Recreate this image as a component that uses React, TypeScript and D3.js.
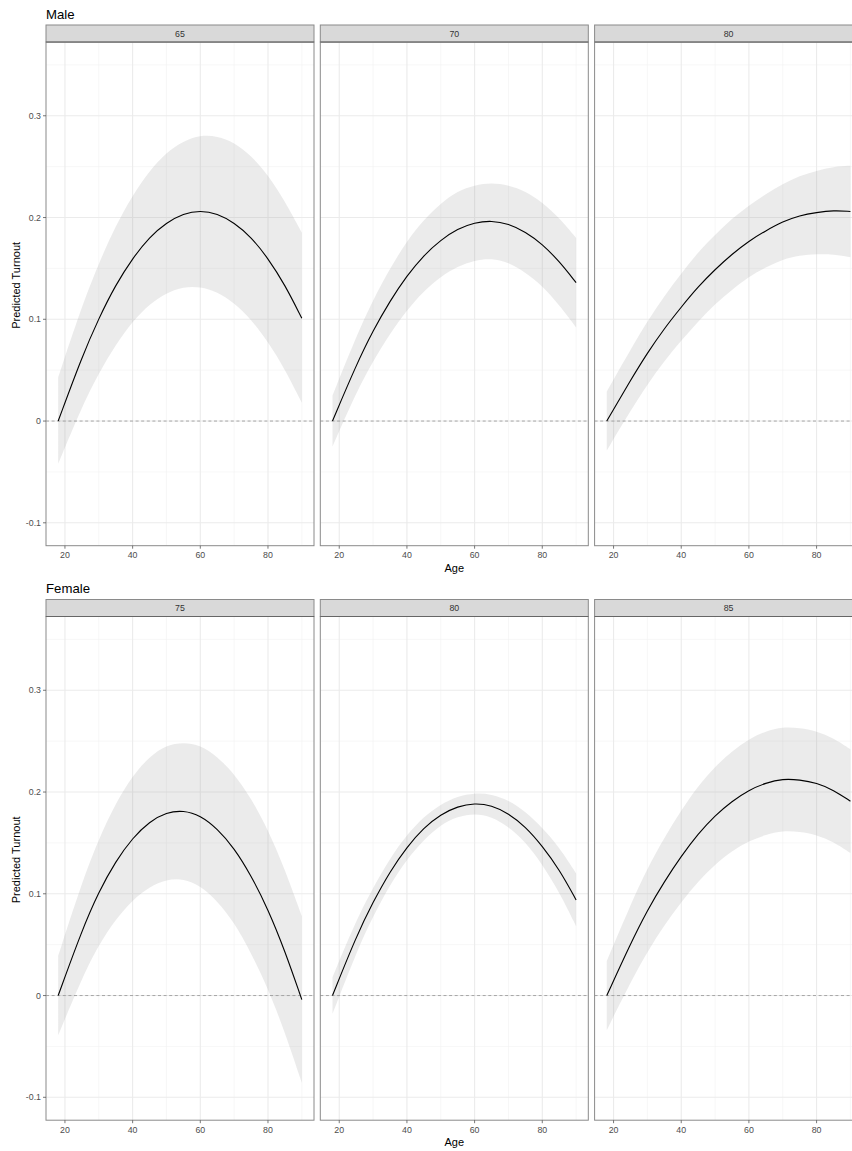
import * as d3 from 'd3';
import React from 'react';

const ages = [18, 25, 30, 35, 40, 45, 50, 55, 60, 65, 70, 75, 80, 85, 90];

// Male facets
const male65Fit = [0, 0.063, 0.101, 0.134, 0.160, 0.181, 0.195, 0.204, 0.207, 0.204, 0.195, 0.181, 0.160, 0.134, 0.101];
const male65Lo = [-0.042, 0.014, 0.047, 0.075, 0.098, 0.115, 0.126, 0.132, 0.132, 0.127, 0.116, 0.100, 0.078, 0.051, 0.018];
const male65Hi = [0.043, 0.113, 0.155, 0.192, 0.222, 0.246, 0.264, 0.275, 0.281, 0.280, 0.274, 0.261, 0.242, 0.216, 0.185];

const male70Fit = [0, 0.055, 0.089, 0.118, 0.143, 0.163, 0.178, 0.189, 0.195, 0.197, 0.194, 0.186, 0.174, 0.157, 0.136];
const male70Lo = [-0.025, 0.028, 0.059, 0.086, 0.109, 0.128, 0.142, 0.152, 0.158, 0.160, 0.156, 0.146, 0.133, 0.114, 0.092];
const male70Hi = [0.025, 0.083, 0.119, 0.150, 0.177, 0.198, 0.214, 0.226, 0.232, 0.234, 0.232, 0.226, 0.215, 0.200, 0.180];

const male80Fit = [0, 0.040, 0.067, 0.091, 0.112, 0.132, 0.149, 0.164, 0.177, 0.187, 0.196, 0.202, 0.205, 0.207, 0.206];
const male80Lo = [-0.029, 0.010, 0.036, 0.059, 0.079, 0.098, 0.115, 0.129, 0.142, 0.151, 0.159, 0.163, 0.164, 0.164, 0.161];
const male80Hi = [0.029, 0.070, 0.098, 0.123, 0.145, 0.166, 0.183, 0.199, 0.212, 0.223, 0.233, 0.241, 0.246, 0.250, 0.251];

// Female facets
const female75Fit = [0, 0.064, 0.102, 0.132, 0.155, 0.171, 0.180, 0.182, 0.177, 0.164, 0.145, 0.118, 0.085, 0.044, -0.004];
const female75Lo = [-0.039, 0.017, 0.050, 0.075, 0.094, 0.107, 0.114, 0.115, 0.108, 0.093, 0.072, 0.042, 0.007, -0.036, -0.086];
const female75Hi = [0.039, 0.111, 0.154, 0.189, 0.216, 0.235, 0.246, 0.249, 0.246, 0.235, 0.218, 0.194, 0.163, 0.124, 0.078];

const female80Fit = [0, 0.058, 0.092, 0.122, 0.146, 0.165, 0.178, 0.186, 0.189, 0.187, 0.179, 0.166, 0.147, 0.124, 0.094];
const female80Lo = [-0.018, 0.042, 0.078, 0.109, 0.134, 0.153, 0.168, 0.176, 0.179, 0.176, 0.166, 0.151, 0.129, 0.102, 0.068];
const female80Hi = [0.018, 0.074, 0.106, 0.135, 0.158, 0.176, 0.188, 0.196, 0.199, 0.198, 0.192, 0.181, 0.165, 0.146, 0.120];

const female85Fit = [0, 0.051, 0.084, 0.112, 0.137, 0.159, 0.177, 0.191, 0.202, 0.209, 0.213, 0.212, 0.209, 0.202, 0.191];
const female85Lo = [-0.034, 0.013, 0.043, 0.069, 0.092, 0.112, 0.129, 0.142, 0.152, 0.158, 0.162, 0.161, 0.158, 0.151, 0.140];
const female85Hi = [0.034, 0.089, 0.125, 0.155, 0.182, 0.206, 0.225, 0.240, 0.252, 0.260, 0.264, 0.263, 0.260, 0.253, 0.242];

const yTicks = [-0.1, 0, 0.1, 0.2, 0.3];
const yTickLabels = ['-0.1', '0', '0.1', '0.2', '0.3'];
const yMinor = [-0.05, 0.05, 0.15, 0.25, 0.35];
const xTicks = [20, 40, 60, 80];
const xMinor = [30, 50, 70, 90];

const groups = [
  {
    title: 'Male',
    facets: [
      { label: '65', fit: male65Fit, lo: male65Lo, hi: male65Hi },
      { label: '70', fit: male70Fit, lo: male70Lo, hi: male70Hi },
      { label: '80', fit: male80Fit, lo: male80Lo, hi: male80Hi },
    ],
  },
  {
    title: 'Female',
    facets: [
      { label: '75', fit: female75Fit, lo: female75Lo, hi: female75Hi },
      { label: '80', fit: female80Fit, lo: female80Lo, hi: female80Hi },
      { label: '85', fit: female85Fit, lo: female85Lo, hi: female85Hi },
    ],
  },
];

const W = 852;
const H = 1151;
const groupH = 574.5;
const panelLeft = 46;
const panelW = 268;
const panelGap = 6.3;
const stripTop = 25;
const stripH = 17;
const panelTop = 42;
const panelBottom = 545.7;
const font = '"Liberation Sans", Arial, Helvetica, sans-serif';

function Panel({ facet, x0, gy }) {
  const x = d3.scaleLinear().domain([14.4, 93.6]).range([x0, x0 + panelW]);
  const y = d3.scaleLinear().domain([-0.1225, 0.3725]).range([gy + panelBottom, gy + panelTop]);

  const rows = ages.map((a, i) => ({ age: a, fit: facet.fit[i], lo: facet.lo[i], hi: facet.hi[i] }));

  const area = d3.area<any>()
    .curve(d3.curveBasis)
    .x(d => x(d.age))
    .y0(d => y(d.lo))
    .y1(d => y(d.hi));
  const line = d3.line<any>()
    .curve(d3.curveBasis)
    .x(d => x(d.age))
    .y(d => y(d.fit));

  const top = gy + panelTop;
  const bottom = gy + panelBottom;

  return (
    <g>
      {/* grid */}
      {yMinor.map(v => (
        <line key={'ym' + v} x1={x0} x2={x0 + panelW} y1={y(v)} y2={y(v)} stroke="#F2F2F2" strokeWidth={0.6} />
      ))}
      {xMinor.map(v => (
        <line key={'xm' + v} x1={x(v)} x2={x(v)} y1={top} y2={bottom} stroke="#F2F2F2" strokeWidth={0.6} />
      ))}
      {yTicks.map(v => (
        <line key={'yM' + v} x1={x0} x2={x0 + panelW} y1={y(v)} y2={y(v)} stroke="#EBEBEB" strokeWidth={1.1} />
      ))}
      {xTicks.map(v => (
        <line key={'xM' + v} x1={x(v)} x2={x(v)} y1={top} y2={bottom} stroke="#EBEBEB" strokeWidth={1.1} />
      ))}

      <line x1={x0} x2={x0 + panelW} y1={y(0)} y2={y(0)} stroke="#A6A6A6" strokeWidth={1} strokeDasharray="3,2.6" />

      <path d={area(rows)} fill="#999999" fillOpacity={0.2} />
      <path d={line(rows)} fill="none" stroke="#000" strokeWidth={1.1} />

      {/* border */}
      <rect x={x0} y={top} width={panelW} height={bottom - top} fill="none" stroke="#8A8A8A" strokeWidth={1} />

      {/* strip */}
      <rect x={x0} y={gy + stripTop} width={panelW} height={stripH} fill="#D9D9D9" stroke="#8A8A8A" strokeWidth={1} />
      <line x1={x0} x2={x0 + panelW} y1={top} y2={top} stroke="#666" strokeWidth={1} />
      <text x={x0 + panelW / 2} y={gy + stripTop + stripH / 2 + 3.2} textAnchor="middle" fontSize={8.8} fill="#333" fontFamily={font}>
        {facet.label}
      </text>

      {/* x axis */}
      {xTicks.map(v => (
        <g key={'xt' + v}>
          <line x1={x(v)} x2={x(v)} y1={bottom} y2={bottom + 3} stroke="#555" strokeWidth={0.8} />
          <text x={x(v)} y={bottom + 12.5} textAnchor="middle" fontSize={8.8} fill="#4D4D4D" fontFamily={font}>
            {v}
          </text>
        </g>
      ))}
    </g>
  );
}

export default function App() {
  return (
    <svg width={W} height={H} style={{ position: 'absolute', left: 0, top: 0, background: '#fff' }}>
      <rect width={W} height={H} fill="#fff" />
      {groups.map((g, gi) => {
        const gy = gi * groupH;
        const y = d3.scaleLinear().domain([-0.1225, 0.3725]).range([gy + panelBottom, gy + panelTop]);
        return (
          <g key={g.title}>
            <text x={panelLeft} y={gy + 18.5} fontSize={13.2} fill="#000" fontFamily={font}>
              {g.title}
            </text>
            {g.facets.map((f, i) => (
              <Panel key={f.label + i} facet={f} x0={panelLeft + i * (panelW + panelGap)} gy={gy} />
            ))}
            {/* y axis */}
            {yTicks.map((v, i) => (
              <g key={'yt' + v}>
                <line x1={panelLeft - 3} x2={panelLeft} y1={y(v)} y2={y(v)} stroke="#555" strokeWidth={0.8} />
                <text x={panelLeft - 5} y={y(v) + 3.1} textAnchor="end" fontSize={8.8} fill="#4D4D4D" fontFamily={font}>
                  {yTickLabels[i]}
                </text>
              </g>
            ))}
            <text
              transform={`translate(19.5,${gy + (stripTop + panelBottom) / 2}) rotate(-90)`}
              textAnchor="middle"
              fontSize={11}
              fill="#000"
              fontFamily={font}
            >
              Predicted Turnout
            </text>
            <text x={(panelLeft + panelLeft + 3 * panelW + 2 * panelGap) / 2} y={gy + 571.5} textAnchor="middle" fontSize={11} fill="#000" fontFamily={font}>
              Age
            </text>
          </g>
        );
      })}
    </svg>
  );
}
